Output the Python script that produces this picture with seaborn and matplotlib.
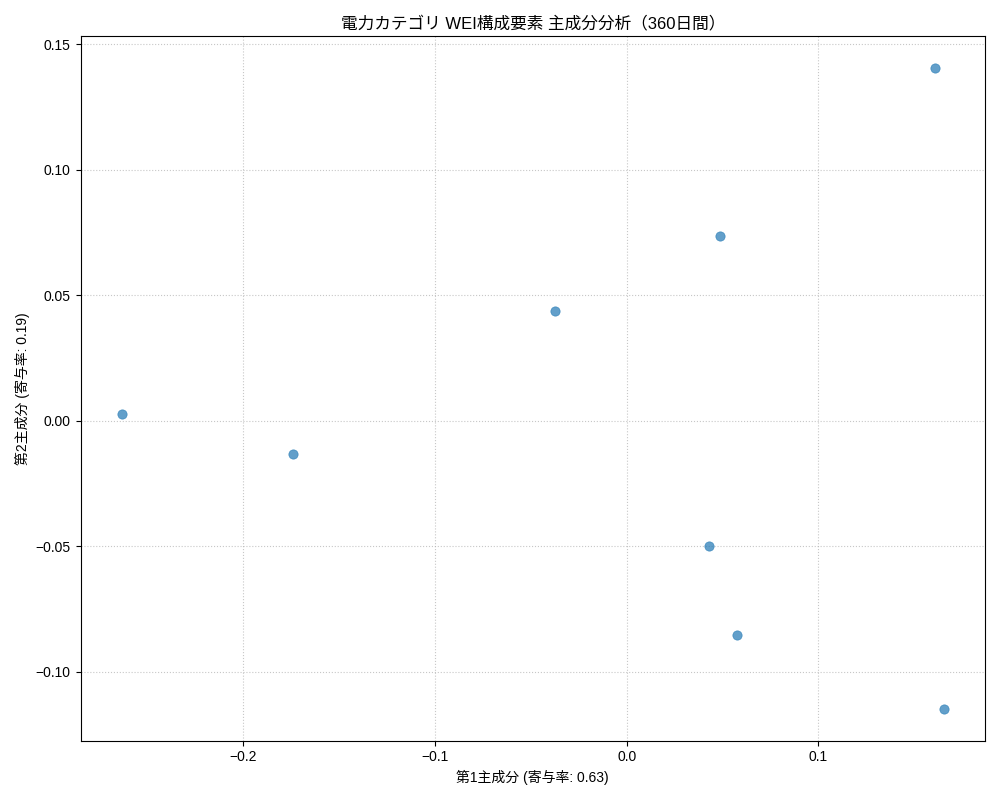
import matplotlib
matplotlib.use("Agg")
import matplotlib.pyplot as plt
import seaborn as sns
import pandas as pd

sns.set_style("ticks", {'text.color': 'black', 'axes.labelcolor': 'black',
                        'xtick.color': 'black', 'ytick.color': 'black'})
plt.rcParams['font.family'] = ['Liberation Sans', 'Noto Sans CJK JP', 'DejaVu Sans']
plt.rcParams['axes.unicode_minus'] = True

# PCA scores
pc1 = [0.1607, 0.0487, -0.0372, -0.2634, -0.1738, 0.0429, 0.0576, 0.1654]
pc2 = [0.1405, 0.0736, 0.0438, 0.0028, -0.0131, -0.0498, -0.0852, -0.1146]
ratio = [0.63, 0.19]

df = pd.DataFrame({'pc1': pc1, 'pc2': pc2})

fig, ax = plt.subplots(figsize=(10, 8), dpi=100)
sns.scatterplot(data=df, x='pc1', y='pc2', ax=ax, color='#1f77b4',
                alpha=0.7, s=45, edgecolor='#1f77b4', linewidth=0.5)
ax.set_title("電力カテゴリ WEI構成要素 主成分分析（360日間）", fontsize=12)
ax.set_xlabel(f"第1主成分 (寄与率: {ratio[0]:.2f})")
ax.set_ylabel(f"第2主成分 (寄与率: {ratio[1]:.2f})")
ax.grid(True, linestyle=':', color='#b0b0b0', alpha=0.7)
for s in ax.spines.values():
    s.set_visible(True)
    s.set_color('black')

plt.tight_layout()
plt.savefig("out.png", dpi=100)
